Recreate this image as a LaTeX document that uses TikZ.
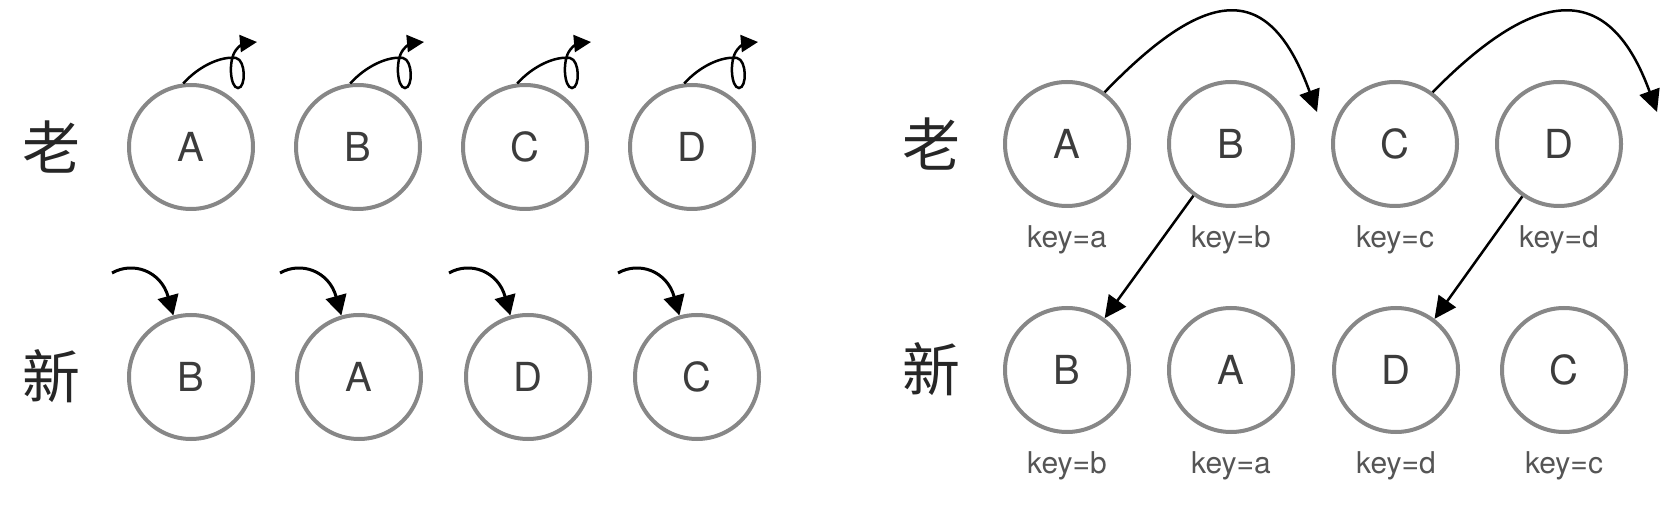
\documentclass[tikz,border=0pt]{standalone}
\usepackage{fontspec}
\setmainfont{TeX Gyre Heros}
\newfontfamily\cjk{Noto Sans CJK SC}
\usetikzlibrary{arrows.meta,calc}
\definecolor{ringgray}{RGB}{135,135,135}
\definecolor{txtgray}{RGB}{60,60,60}
\definecolor{keygray}{RGB}{85,85,85}
\tikzset{
  ring/.style={circle,draw=ringgray,line width=4pt,minimum size=124pt,inner sep=0pt,
               font=\fontsize{40}{40}\selectfont,text=txtgray},
  hanzi/.style={font=\cjk\fontsize{58}{58}\selectfont,text=black!85},
  keylbl/.style={anchor=base,font=\fontsize{30}{30}\selectfont,text=keygray},
  looparrow/.style={line width=2.5pt,-{Triangle[length=17pt,width=17pt]}},
  bendarrow/.style={line width=3pt,-{Triangle[length=20pt,width=21pt]}},
  movearrow/.style={line width=2.5pt,-{Triangle[length=22pt,width=21pt]}},
}
\begin{document}
\begin{tikzpicture}[x=1pt,y=-1pt]
\useasboundingbox[fill=white] (0,0) rectangle (1676,526);

% ---------------- left panel ----------------
\node[hanzi] (lold) at (51,147) {老};
\node[hanzi] (lnew) at (51,376) {新};

\node[ring] (LA1) at (191,147) {A};
\node[ring] (LB1) at (358,147) {B};
\node[ring] (LC1) at (525,147) {C};
\node[ring] (LD1) at (692,147) {D};

\node[ring] (LB2) at (191,377) {B};
\node[ring] (LA2) at (359,377) {A};
\node[ring] (LD2) at (528,377) {D};
\node[ring] (LC2) at (697,377) {C};

% self loops (top row)
\foreach \n in {LA1,LB1,LC1,LD1}{
  \begin{scope}[shift={(\n.center)}]
    \draw[looparrow] (\n.97) .. controls (9,-82) and (31,-91) .. (45,-89)
       .. controls (55,-87) and (55,-59) .. (47,-59)
       .. controls (39,-59) and (37,-87) .. (45,-97)
       .. controls (48,-102) and (55,-104) .. (66,-105);
  \end{scope}
}

% incoming arrows (bottom row)
\foreach \n in {LB2,LA2,LD2,LC2}{
  \path (\n.center) ++(-79,-104) coordinate (\n s);
  \begin{scope}[shift={(\n.center)}]
    \draw[bendarrow] (\n s) .. controls (-58,-116) and (-30,-106) .. (\n.106);
  \end{scope}
}

% ---------------- right panel ----------------
\node[hanzi] (rold) at (931,144) {老};
\node[hanzi] (rnew) at (931,369) {新};

\node[ring] (RA1) at (1067,144) {A};
\node[ring] (RB1) at (1231,144) {B};
\node[ring] (RC1) at (1395,144) {C};
\node[ring] (RD1) at (1559,144) {D};

\node[ring] (RB2) at (1067,370) {B};
\node[ring] (RA2) at (1231,370) {A};
\node[ring] (RD2) at (1396,370) {D};
\node[ring] (RC2) at (1564,370) {C};

\node[keylbl] (kA1) at (1067,248) {key=a};
\node[keylbl] (kB1) at (1231,248) {key=b};
\node[keylbl] (kC1) at (1395,248) {key=c};
\node[keylbl] (kD1) at (1559,248) {key=d};

\node[keylbl] (kB2) at (1067,473) {key=b};
\node[keylbl] (kA2) at (1231,473) {key=a};
\node[keylbl] (kD2) at (1396,473) {key=d};
\node[keylbl] (kC2) at (1564,473) {key=c};

% arcs over the top row
\coordinate (t1) at (1317,112);
\coordinate (t2) at (1657,112);
\draw[movearrow] (RA1.54) .. controls (1210,-17) and (1270,-17) .. (t1);
\draw[movearrow] (RC1.54) .. controls (1540,-17) and (1610,-17) .. (t2);

% diagonal moves
\draw[movearrow] (RB1.234) -- (RB2.54);
\draw[movearrow] (RD1.235) -- (RD2.53);

\end{tikzpicture}
\end{document}
